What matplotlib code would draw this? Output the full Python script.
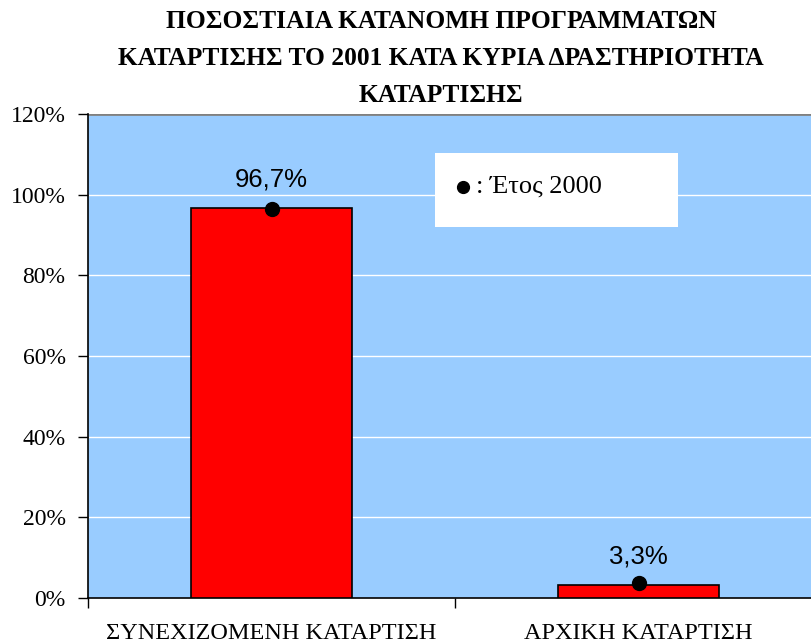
import matplotlib.pyplot as plt
import matplotlib.ticker as mticker
import matplotlib.transforms as mtransforms

# data
categories = ['ΣΥΝΕΧΙΖΟΜΕΝΗ ΚΑΤΑΡΤΙΣΗ', 'ΑΡΧΙΚΗ ΚΑΤΑΡΤΙΣΗ']
share_2001 = [96.7, 3.3]
share_2000 = [96.5, 3.6]
value_labels = ['96,7%', '3,3%']
title_lines = ['ΠΟΣΟΣΤΙΑΙΑ ΚΑΤΑΝΟΜΗ ΠΡΟΓΡΑΜΜΑΤΩΝ',
               'ΚΑΤΑΡΤΙΣΗΣ ΤΟ 2001 ΚΑΤΑ ΚΥΡΙΑ ΔΡΑΣΤΗΡΙΟΤΗΤΑ',
               'ΚΑΤΑΡΤΙΣΗΣ']
legend_label = ': Έτος 2000'

W, H = 811, 644
fig = plt.figure(figsize=(W / 100, H / 100), dpi=100)
fig.patch.set_facecolor('white')

# plot area runs past the right edge of the picture
ax = fig.add_axes([88 / W, 1 - 598 / H, (822 - 88) / W, 484 / H])
ax.set_facecolor('#99CCFF')

x = list(range(len(categories)))
ax.bar(x, share_2001, width=0.436, color='#FF0000', edgecolor='black',
       linewidth=1.2, zorder=3)
ax.scatter(x, share_2000, s=100, color='black', zorder=4)

for xi, v, lab in zip(x, share_2001, value_labels):
    ax.text(xi, v + 4.0, lab, ha='center', va='bottom', fontsize=18.5,
            family='Liberation Sans', zorder=5)

ax.set_xlim(-0.5, 1.5)
ax.set_ylim(0, 120)
ax.yaxis.set_major_locator(mticker.MultipleLocator(20))
ax.yaxis.set_major_formatter(mticker.FuncFormatter(lambda v, p: '%d%%' % v))
ax.grid(axis='y', color='white', linewidth=1.0, zorder=1)
ax.axhline(120, color='#808080', linewidth=2.0, zorder=2)

ax.set_xticks([-0.5, 0.5, 1.5])
ax.set_xticklabels([])
ax.tick_params(axis='x', length=7.2, width=1, direction='out')
ax.tick_params(axis='y', length=7.2, width=1, direction='out', labelsize=17, pad=9)
for lab in ax.get_yticklabels():
    lab.set_family('Liberation Serif')

# category names, baseline just above the bottom edge
trans = mtransforms.blended_transform_factory(ax.transData, fig.transFigure)
for xi, name in zip(x, categories):
    ax.text(xi, 1 - 639 / H, name, transform=trans, ha='center', va='baseline',
            fontsize=17.5, family='Liberation Serif')

for side in ['top', 'right']:
    ax.spines[side].set_visible(False)
for side in ['left', 'bottom']:
    ax.spines[side].set_color('black')
    ax.spines[side].set_linewidth(1.2)

# legend box with the 2000 marker
fig.patches.append(plt.Rectangle((435 / W, 1 - 227 / H), 243 / W, 74 / H,
                                 transform=fig.transFigure, facecolor='white',
                                 edgecolor='none', zorder=10))
fig.lines.append(plt.Line2D([463 / W], [1 - 187 / H], marker='o', markersize=8.5,
                            color='black', transform=fig.transFigure, zorder=11))
fig.text(476 / W, 1 - 187 / H, legend_label, fontsize=19, family='Liberation Serif',
         va='center', ha='left', zorder=11)

for i, line in enumerate(title_lines):
    fig.text(441 / W, 1 - (22 + 36.5 * i) / H, line, ha='center', va='center',
             fontsize=18.4, fontweight='bold', family='Liberation Serif')

fig.savefig('out.png', dpi=100)
